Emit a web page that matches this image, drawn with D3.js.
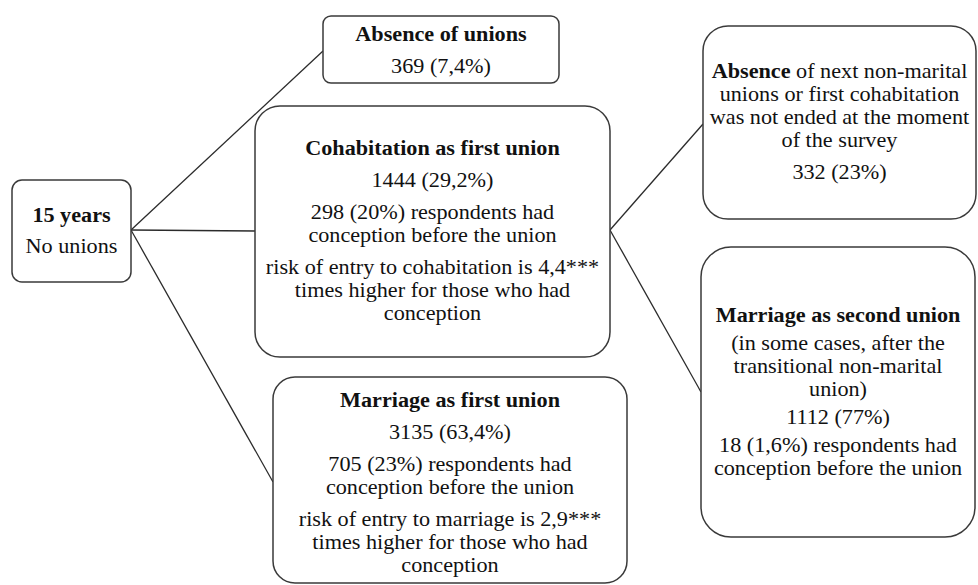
<!DOCTYPE html>
<html>
<head>
<meta charset="utf-8">
<script src="https://cdn.jsdelivr.net/npm/d3@7"></script>
<style>
  html, body { margin: 0; padding: 0; background: #fff; }
  svg { display: block; }
</style>
</head>
<body>
<div id="chart"></div>
<script>
// node ids
const nodes = ['start', 'none', 'cohab', 'marr1', 'noNext', 'marr2'];

// text of every box: paragraphs of lines, ^...^ marks bold
const startText = [['^15 years^'], ['No unions']];
const noneText = [['^Absence of unions^'], ['369 (7,4%)']];
const cohabText = [
    ['^Cohabitation as first union^'],
    ['1444 (29,2%)'],
    ['298 (20%) respondents had', 'conception before the union'],
    ['risk of entry to cohabitation is 4,4***', 'times higher for those who had', 'conception']
];
const marr1Text = [
    ['^Marriage as first union^'],
    ['3135 (63,4%)'],
    ['705 (23%) respondents had', 'conception before the union'],
    ['risk of entry to marriage is 2,9***', 'times higher for those who had', 'conception']
];
const noNextText = [
    ['^Absence^ of next non-marital', 'unions or first cohabitation', 'was not ended at the moment', 'of the survey'],
    ['332 (23%)']
];
const marr2Text = [
    ['^Marriage as second union^'],
    ['(in some cases, after the', 'transitional non-marital', 'union)'],
    ['1112 (77%)'],
    ['18 (1,6%) respondents had', 'conception before the union']
];

// transitions between states
const links = [
    ['start', 'none'],
    ['start', 'cohab'],
    ['start', 'marr1'],
    ['cohab', 'noNext'],
    ['cohab', 'marr2']
];

const texts = {start: startText, none: noneText, cohab: cohabText, marr1: marr1Text, noNext: noNextText, marr2: marr2Text};

// layout (pixels)
const width = 978;
const height = 585;
const layout = {
    start:  {x: 12,  y: 180, w: 119, h: 102, r: 10, first: 222, gap: 8,  out: 230},
    none:   {x: 323, y: 16,  w: 236, h: 67,  r: 8,  first: 41,  gap: 9,  in: 51},
    cohab:  {x: 255, y: 106, w: 355, h: 251, r: 25, first: 155, gap: 9,  in: 231, out: 230},
    marr1:  {x: 273, y: 377, w: 354, h: 206, r: 22, first: 407, gap: 9,  in: 482},
    noNext: {x: 703, y: 26,  w: 273, h: 193, r: 25, first: 78,  gap: 9,  in: 124},
    marr2:  {x: 701, y: 247, w: 274, h: 290, r: 30, first: 322, gap: 5,  in: 392}
};
const lineHeight = 23;
const stretch = 1.11;

const svg = d3.select('#chart')
    .append('svg')
    .attr('width', width)
    .attr('height', height);

// connector lines
const line = d3.line();
svg.append('g')
    .selectAll('path')
    .data(links)
    .enter()
    .append('path')
    .attr('d', d => {
        const s = layout[d[0]];
        const t = layout[d[1]];
        return line([[s.x + s.w, s.out], [t.x, t.in]]);
    })
    .attr('fill', 'none')
    .attr('stroke', '#2b2b2b')
    .attr('stroke-width', 1.3);

// boxes
const box = svg.append('g')
    .selectAll('g')
    .data(nodes)
    .enter()
    .append('g');

box.append('rect')
    .attr('x', d => layout[d].x)
    .attr('y', d => layout[d].y)
    .attr('width', d => layout[d].w)
    .attr('height', d => layout[d].h)
    .attr('rx', d => layout[d].r)
    .attr('fill', '#fff')
    .attr('stroke', '#3a3a3a')
    .attr('stroke-width', 1.5);

// flatten paragraphs into lines with baselines
function placeLines(id) {
    const L = layout[id];
    const out = [];
    let y = L.first;
    texts[id].forEach((para, pi) => {
        if (pi > 0) y += L.gap;
        para.forEach((str, li) => {
            if (pi > 0 || li > 0) y += lineHeight;
            out.push({str, y, cx: L.x + L.w / 2});
        });
    });
    return out;
}

box.each(function (id) {
    const g = d3.select(this);
    const lines = placeLines(id);
    const t = g.selectAll('text')
        .data(lines)
        .enter()
        .append('text')
        .attr('transform', d => `translate(${d.cx},${d.y}) scale(${stretch},1)`)
        .attr('text-anchor', 'middle')
        .attr('font-family', '"Liberation Serif", "Times New Roman", serif')
        .attr('font-size', '20px')
        .attr('fill', '#111');

    t.each(function (d) {
        const parts = d.str.split('^');
        const el = d3.select(this);
        parts.forEach((p, i) => {
            if (!p) return;
            el.append('tspan')
                .attr('font-weight', i % 2 === 1 ? 'bold' : 'normal')
                .text(p);
        });
    });
});
</script>
</body>
</html>
